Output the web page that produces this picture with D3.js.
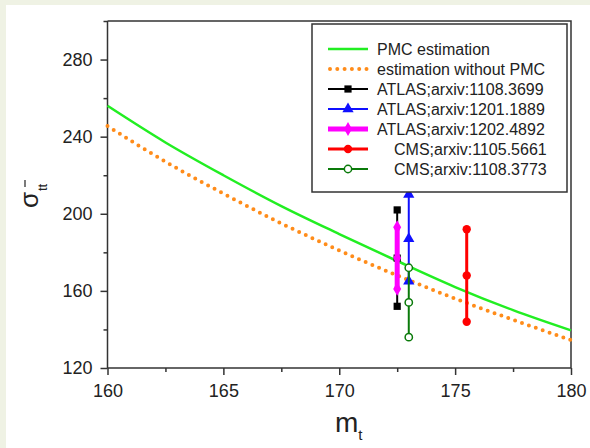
<!DOCTYPE html>
<html>
<head>
  <title>top pair cross section vs m_t</title>
  <script src="https://d3js.org/d3.v7.min.js"></script>
  <style>
    body { margin: 0; background: #eff2e4; }
    svg { display: block; }
    text { font-family: Arial, "Liberation Sans", sans-serif; fill: #222; }
  </style>
</head>
<body>
  <div id="chart"></div>
  <script>
    // theory curves
    var mtGrid = [160, 162.5, 165, 167.5, 170, 172.5, 175, 177.5, 180];
    var pmcSigma = [256, 237, 220, 204, 189.5, 175.5, 162, 150, 139.5];
    var noPmcSigma = [245.5, 227, 210.5, 195, 181, 168, 156, 145, 134.5];

    // measurements
    var expLabels = ["ATLAS;arxiv:1108.3699", "ATLAS;arxiv:1201.1889", "ATLAS;arxiv:1202.4892",
      "CMS;arxiv:1105.5661", "CMS;arxiv:1108.3773"];
    var expMt = [172.5, 173.0, 172.5, 175.5, 173.0];
    var expHigh = [202, 210, 193, 192, 172];
    var expCentral = [177, 187, 177, 168, 154];
    var expLow = [152, 165, 161, 144, 136];

    var xTicks = [160, 165, 170, 175, 180];
    var yTicks = [120, 160, 200, 240, 280];

    var width = 590, height = 448;
    var svg = d3.select("#chart").append("svg")
      .attr("width", width)
      .attr("height", height);

    svg.append("rect")
      .attr("x", 6).attr("y", 5)
      .attr("width", width - 6).attr("height", height - 5)
      .attr("fill", "#fff");

    var x = d3.scaleLinear().domain([160, 180]).range([107.5, 571]);
    var y = d3.scaleLinear().domain([120, 300]).range([368, 21]);

    // axes
    var xAxis = d3.axisBottom(x).tickValues(xTicks).tickSize(7).tickPadding(6).tickFormat(d3.format("d"));
    var yAxis = d3.axisLeft(y).tickValues(yTicks).tickSize(7).tickPadding(8).tickFormat(d3.format("d"));

    var gx = svg.append("g").attr("transform", "translate(0," + y(120) + ")").call(xAxis);
    var gy = svg.append("g").attr("transform", "translate(" + x(160) + ",0)").call(yAxis);

    // minor ticks
    svg.append("g").attr("transform", "translate(0," + y(120) + ")")
      .call(d3.axisBottom(x).tickValues([162.5, 167.5, 172.5, 177.5]).tickSize(4).tickFormat(""))
      .select(".domain").remove();
    svg.append("g").attr("transform", "translate(" + x(160) + ",0)")
      .call(d3.axisLeft(y).tickValues([140, 180, 220, 260, 300]).tickSize(4).tickFormat(""))
      .select(".domain").remove();

    svg.selectAll(".domain, .tick line").attr("stroke", "#333").attr("stroke-width", 1.5);
    gx.selectAll(".tick text").style("font-size", "18px").attr("dy", "0.9em");
    gy.selectAll(".tick text").style("font-size", "18px");
    gx.select(".domain").attr("d", "M" + x(160) + ",0H" + x(180));
    gy.select(".domain").attr("d", "M0," + y(120) + "V" + y(300));

    // top and right frame
    svg.append("path")
      .attr("d", "M" + x(160) + "," + y(300) + "H" + x(180) + "V" + y(120))
      .attr("fill", "none").attr("stroke", "#333").attr("stroke-width", 1.5);

    // curves
    var line = d3.line()
      .x(function(d) { return x(d[0]); })
      .y(function(d) { return y(d[1]); })
      .curve(d3.curveMonotoneX);

    svg.append("path")
      .datum(d3.zip(mtGrid, pmcSigma))
      .attr("d", line)
      .attr("fill", "none").attr("stroke", "#22ee22").attr("stroke-width", 2.5);

    svg.append("path")
      .datum(d3.zip(mtGrid, noPmcSigma))
      .attr("d", line)
      .attr("fill", "none").attr("stroke", "#ff8c1a").attr("stroke-width", 4)
      .attr("stroke-linecap", "round").attr("stroke-dasharray", "0 7.3");

    // experiments styling
    var expStyle = [
      { color: "#000", width: 2, symbol: d3.symbolSquare, size: 52, fill: "#000" },
      { color: "#1010ff", width: 2, symbol: d3.symbolTriangle, size: 55, fill: "#1010ff" },
      { color: "#ff00ff", width: 5, symbol: d3.symbolDiamond, size: 55, fill: "#ff00ff" },
      { color: "#ff0000", width: 3, symbol: d3.symbolCircle, size: 55, fill: "#ff0000" },
      { color: "#0a7a0a", width: 2, symbol: d3.symbolCircle, size: 42, fill: "#fff" }
    ];

    expLabels.forEach(function(name, i) {
      var st = expStyle[i];
      var g = svg.append("g");
      g.append("line")
        .attr("x1", x(expMt[i])).attr("x2", x(expMt[i]))
        .attr("y1", y(expHigh[i])).attr("y2", y(expLow[i]))
        .attr("stroke", st.color).attr("stroke-width", st.width);
      g.selectAll("path")
        .data([expHigh[i], expCentral[i], expLow[i]])
        .enter().append("path")
        .attr("d", d3.symbol().type(st.symbol).size(st.size))
        .attr("transform", function(d) { return "translate(" + x(expMt[i]) + "," + y(d) + ")"; })
        .attr("fill", st.fill)
        .attr("stroke", st.color).attr("stroke-width", st.fill === "#fff" ? 1.5 : 0);
    });

    // legend
    var legend = svg.append("g");
    legend.append("rect")
      .attr("x", 312).attr("y", 24).attr("width", 255).attr("height", 168)
      .attr("fill", "#fff").attr("stroke", "#333").attr("stroke-width", 1.5);

    var rowY = function(i) { return 49 + i * 20; };

    legend.append("line")
      .attr("x1", 328).attr("x2", 368).attr("y1", rowY(0)).attr("y2", rowY(0))
      .attr("stroke", "#22ee22").attr("stroke-width", 2.5);
    legend.append("line")
      .attr("x1", 330).attr("x2", 368).attr("y1", rowY(1)).attr("y2", rowY(1))
      .attr("stroke", "#ff8c1a").attr("stroke-width", 4)
      .attr("stroke-linecap", "round").attr("stroke-dasharray", "0 7.3");

    var legendNames = ["PMC estimation", "estimation without PMC"].concat(expLabels);
    legendNames.forEach(function(name, i) {
      var indent = name.indexOf("CMS") === 0 ? 394 : 377;
      legend.append("text")
        .attr("x", indent).attr("y", rowY(i))
        .attr("dy", "0.36em")
        .style("font-size", "16px")
        .text(name);
    });

    expLabels.forEach(function(name, i) {
      var st = expStyle[i];
      var yy = rowY(i + 2);
      legend.append("line")
        .attr("x1", 328).attr("x2", 368).attr("y1", yy).attr("y2", yy)
        .attr("stroke", st.color).attr("stroke-width", st.width);
      legend.append("path")
        .attr("d", d3.symbol().type(st.symbol).size(st.size))
        .attr("transform", "translate(348," + yy + ")")
        .attr("fill", st.fill)
        .attr("stroke", st.color).attr("stroke-width", st.fill === "#fff" ? 1.5 : 0);
    });

    // axis titles
    var xt = svg.append("text")
      .attr("x", 335).attr("y", 432)
      .style("font-size", "28px");
    xt.append("tspan").text("m");
    xt.append("tspan").attr("dy", 8).style("font-size", "15px").text("t");

    var yt = svg.append("g").attr("transform", "rotate(-90)");
    yt.append("text")
      .attr("x", -200).attr("y", 38)
      .attr("text-anchor", "middle")
      .style("font-size", "26px")
      .text("σ");
    yt.append("text")
      .attr("x", -191).attr("y", 47)
      .style("font-size", "13px")
      .text("tt");
    yt.append("line")
      .attr("x1", -187).attr("x2", -180).attr("y1", 25).attr("y2", 25)
      .attr("stroke", "#222").attr("stroke-width", 1.2);
  </script>
</body>
</html>
